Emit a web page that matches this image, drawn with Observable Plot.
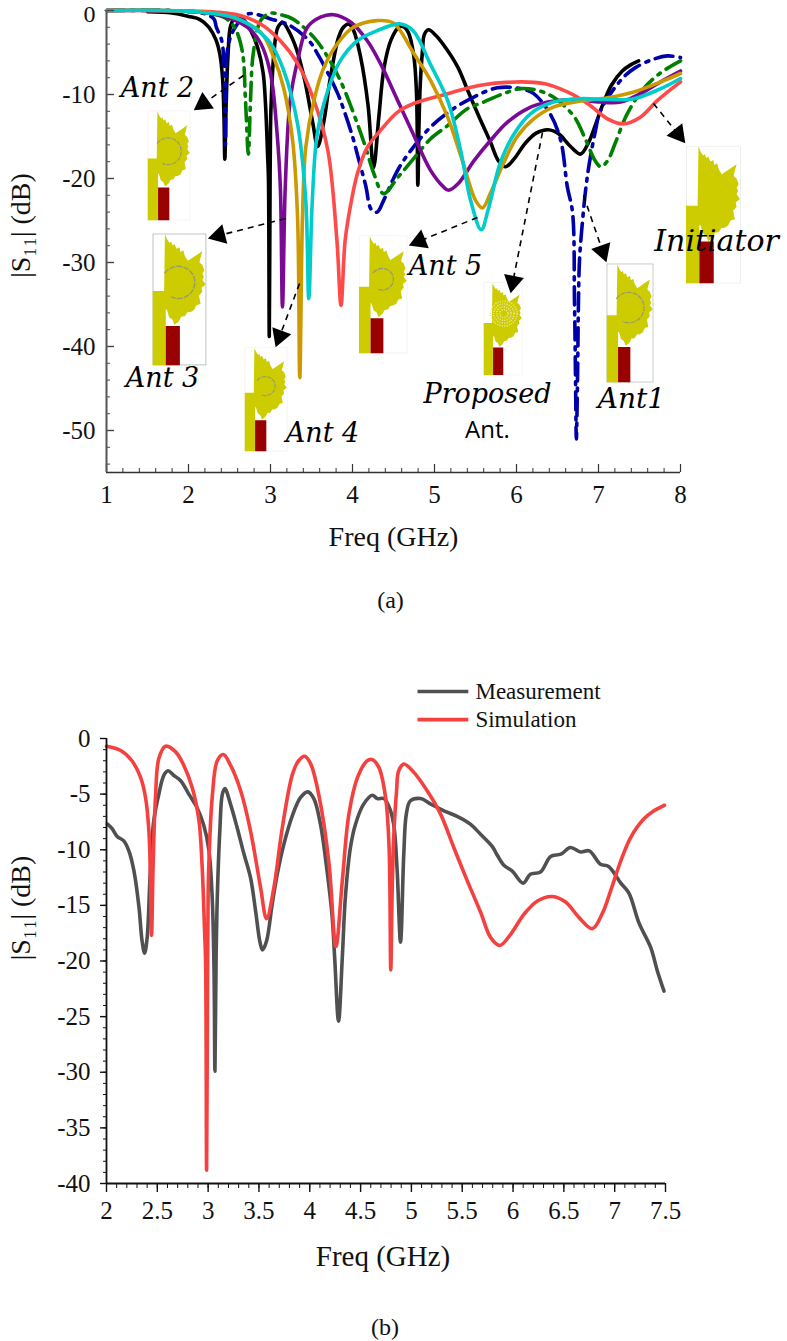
<!DOCTYPE html>
<html><head><meta charset="utf-8">
<style>html,body{margin:0;padding:0;background:#fff}svg{display:block}</style>
<script src="https://cdn.jsdelivr.net/npm/d3@7"></script>
<script src="https://cdn.jsdelivr.net/npm/@observablehq/plot@0.6"></script>
</head><body><div id="a"></div><div id="b"></div>
<script>
// ---- S11 curves, panel (a) ----
const simX=[2,2.14,2.25,2.335,2.384,2.417,2.433,2.443,2.459,2.482,2.515,2.58,2.68,2.76,2.843,2.91,2.94,2.965,2.975,2.985,2.995,3.0,3.007,3.04,3.09,3.15,3.22,3.32,3.417,3.516,3.575,3.647,3.73,3.83,3.89,3.95,4.01,4.1,4.19,4.257,4.32,4.385,4.47,4.565,4.615,4.68,4.746,4.78,4.797,4.81,4.826,4.854,4.875,4.926,5.02,5.155,5.287,5.417,5.55,5.68,5.78,5.87,5.976,6.107,6.24,6.386,6.517,6.65,6.78,6.88,6.96,7.06,7.157,7.29,7.387,7.49];
const simY=[-0.7,-1.08,-2,-3.5,-5.3,-8.3,-12.8,-17.7,-11.3,-5.3,-1.8,-0.7,-1.2,-2.4,-4.4,-7.4,-11.3,-17.3,-20,-38.8,-20,-14,-11.3,-5.3,-2,-1.44,-2.4,-4.7,-8.3,-13.4,-16.2,-13.4,-8,-3.2,-2,-1.6,-2.3,-5.6,-11.3,-18.7,-12.8,-6.8,-3.5,-2,-1.9,-2.6,-5.3,-9.7,-20.8,-14,-8.9,-4.7,-2.9,-2.3,-3,-4.7,-6.8,-9.8,-12.8,-15.6,-17.9,-18.6,-17.6,-15.8,-14.6,-14.2,-14.7,-16.1,-17.1,-15.7,-13.7,-11,-8.9,-7.2,-6.5,-6];
const blackX=[1.5,1.8,...simX], blackY=[-0.15,-0.3,...simY];
const blueX=[1,2,2.2,2.31,2.34,2.41,2.45,2.48,2.57,2.73,3.0,3.24,3.47,3.57,3.65,3.82,3.9,4,4.08,4.16,4.23,4.3,4.38,4.5,4.62,4.95,5.23,5.48,5.77,6.05,6.21,6.41,6.54,6.62,6.683,6.707,6.72,6.73,6.744,6.756,6.768,6.8,6.866,6.963,7.024,7.29,7.45,7.67,7.84,8];
const blueY=[0,-0.1,-0.4,-1,-2,-3.8,-16,-4.4,-2,-0.4,-1,-1.8,-3.6,-5.1,-6.5,-9.9,-12,-15,-17.9,-20.8,-23.7,-24,-22.6,-20,-17.9,-13.9,-11.7,-10.3,-9.2,-9.3,-9.9,-12.3,-15.5,-21,-24,-34.5,-44,-51,-44,-34.5,-29.8,-25.6,-19.6,-14.3,-11.9,-8.1,-6.8,-5.8,-5.4,-5.6];
const greenX=[1,2,2.43,2.56,2.655,2.695,2.73,2.756,2.79,2.88,3,3.12,3.27,3.53,3.67,3.85,4.06,4.16,4.26,4.38,4.55,4.74,4.95,5.16,5.4,5.6,5.84,6.05,6.25,6.45,6.7,6.84,6.96,7.03,7.11,7.2,7.35,7.55,7.76,8];
const greenY=[0,-0.1,-0.8,-2,-4.8,-10.7,-17.1,-10.7,-5.1,-1.2,-0.32,-0.5,-1,-3.2,-5.1,-8.3,-13.5,-16.3,-19.4,-21.8,-19.9,-17.7,-15.3,-13.7,-11.7,-10.9,-9.9,-9.3,-9.5,-10.3,-12.6,-15.3,-17.9,-18.6,-17.9,-15.9,-12.3,-9.3,-7.4,-6];
const purpleX=[1,2,2.4,2.72,2.88,3,3.08,3.12,3.146,3.18,3.24,3.33,3.45,3.61,3.77,3.98,4.18,4.34,4.55,4.74,4.95,5.11,5.17,5.29,5.48,5.68,5.89,6.13,6.38,6.7,7.02,7.27,7.51,7.79,8];
const purpleY=[0,-0.1,-0.6,-2,-3.9,-7.5,-14.6,-21,-35.3,-21,-10.7,-6,-2,-0.8,-0.5,-1.4,-3.6,-6.3,-10.7,-14.7,-19,-21,-21.4,-20.6,-17.9,-15.5,-13.3,-11.7,-10.9,-10.6,-10.9,-10.9,-9.9,-8.3,-7.2];
const redX=[1,2,2.35,2.63,2.88,3.12,3.33,3.53,3.7,3.81,3.86,3.91,3.98,4.06,4.18,4.34,4.55,4.74,5.16,5.56,6.05,6.33,6.62,6.87,7.11,7.3,7.51,7.72,8];
const redY=[0,-0.05,-0.2,-0.6,-1.6,-3.6,-6.3,-10.7,-16.7,-27.4,-35.1,-27.4,-23,-19.4,-16.3,-14.3,-12.1,-11.1,-9.9,-8.9,-8.5,-8.7,-9.7,-11.1,-12.9,-13.5,-12.7,-10.7,-8.5];
const goldX=[1,2,2.5,2.88,3.04,3.16,3.27,3.33,3.357,3.39,3.43,3.53,3.65,3.82,4.01,4.3,4.5,4.74,4.95,5.16,5.35,5.5,5.585,5.68,5.84,6.01,6.21,6.45,6.78,7.11,7.43,7.76,8];
const goldY=[0,-0.1,-0.7,-2.6,-5.6,-9.2,-15.5,-24.6,-43.7,-24.6,-16.3,-10.7,-6.8,-3.9,-2,-1.2,-1.5,-5,-8.3,-12.7,-18.2,-22.6,-23.5,-21.8,-18.2,-15,-12.9,-11.5,-10.8,-10.4,-9.7,-8.5,-7.5];
const cyanX=[1,2,2.55,2.79,3,3.16,3.33,3.43,3.467,3.51,3.57,3.7,3.85,4.06,4.3,4.585,4.74,4.95,5.16,5.32,5.44,5.57,5.66,5.8,5.97,6.17,6.45,6.78,7.11,7.43,7.76,8];
const cyanY=[0,-0.1,-0.8,-2,-3.9,-7.1,-13.5,-22.6,-34.3,-22.6,-14.7,-9.5,-6,-3.6,-2.4,-1.6,-2.4,-6.4,-10.7,-16.7,-22.6,-26.1,-23.5,-18.2,-14.7,-12.3,-10.9,-10.5,-10.6,-10.5,-9.3,-8.1];
// ---- panel (b) ----
const measX=[2.01,2.055,2.105,2.17,2.22,2.27,2.32,2.35,2.375,2.4,2.43,2.465,2.515,2.565,2.605,2.66,2.73,2.81,2.89,2.957,3.007,3.04,3.058,3.067,3.078,3.09,3.115,3.14,3.165,3.22,3.285,3.35,3.417,3.467,3.51,3.535,3.575,3.63,3.68,3.745,3.83,3.91,3.98,4.04,4.105,4.17,4.22,4.245,4.283,4.32,4.35,4.4,4.45,4.53,4.615,4.665,4.73,4.795,4.83,4.86,4.893,4.925,4.95,4.99,5.09,5.19,5.32,5.45,5.58,5.68,5.795,5.845,5.91,5.99,6.1,6.17,6.27,6.37,6.47,6.565,6.665,6.75,6.86,6.94,7.06,7.14,7.24,7.355,7.42,7.485];
const measY=[-7.7,-8.1,-8.8,-9.2,-10.1,-11.9,-15.2,-18.2,-19.3,-17.9,-12.2,-7.4,-5,-3.3,-2.9,-3.3,-3.8,-5,-6.2,-7.8,-10,-14.3,-20.9,-29.9,-20,-14.3,-8.3,-5,-4.5,-5.9,-8,-10.3,-12.5,-15.5,-18.3,-19,-18.2,-14.9,-12.2,-9.5,-6.9,-5.3,-4.8,-5.4,-7.7,-11.9,-16,-19.7,-25.4,-19.7,-14.3,-9.8,-7.7,-5.9,-5.1,-5.4,-5.4,-6.5,-8,-11.9,-18.3,-10.4,-6.8,-5.6,-5.4,-5.9,-6.5,-7,-7.7,-8.6,-9.7,-10.5,-11.4,-11.9,-13,-12.2,-12,-10.6,-10.4,-9.8,-10.2,-10.1,-11.3,-11.5,-13,-13.9,-16.6,-18.8,-20.9,-22.7];
// ---- annotations, panel (a) ----
const iconNames=["Ant 2","Ant 3","Ant 4","Ant 5","Proposed","Ant1","Initiator"];
const iconCx=[1.762,1.89,2.945,4.372,5.835,7.384,8.40];
const iconCy=[-18.45,-34.4,-46.3,-33.8,-37.9,-37.2,-24.3];
const iconW=[43,54,43,49,39,47,55];
const iconH=[110,132,104,118,93,119,138];
const ringR=[40,40,30,30,0,42,0];
const arrowFromX=[2.671,3.183,3.354,5.524,6.317,6.817,7.671];
const arrowFromY=[-7.74,-24.76,-32.5,-24.64,-14.52,-22.02,-11.07];
const arrowToX=[2.061,2.232,3.061,4.683,5.927,7.098,8.061];
const arrowToY=[-11.9,-27.14,-40.12,-27.98,-33.69,-30,-15.83];
const labelText=["Ant 2","Ant 3","Ant 4","Ant 5","Initiator","Proposed","Ant1"];
const labelX=[1.622,1.683,3.634,5.134,8.44,5.646,7.402];
const labelY=[-9.29,-43.8,-50.36,-30.5,-27.5,-45.7,-46.2];
const labelSize=[27,27,27,27,30,27,28];

const serif='"Liberation Serif", serif', mathFont='"DejaVu Serif", serif';
const zip=(X,Y)=>X.map((x,i)=>({x,y:Y[i]}));
const range=(a,b,s)=>d3.range(Math.round((b-a)/s)+1).map(i=>+(a+i*s).toFixed(3));

function icon(name,ring){
  const body="M30 2L35 14L41 24L45 20L48 30L53 26L58 38L65 34L67 46L74 42L78 56L85 68L100 58L120 44L116 60L113 72L120 78L125 92L120 100L124 108L120 115L128 127L118 135L120 145L112 155L116 175L106 178L100 190L92 195L84 196L78 206L69 207L64 218L53 227L48 214L40 208L35 190L32 188L32 230L32 328L0 328L0 143L28 143Z";
  let extra="";
  if(ring) extra=`<path d="M${65-ring*0.9} ${123-ring*0.6}A${ring} ${ring} 0 1 1 ${65-ring*0.5} ${123+ring*0.87}" fill="none" stroke="#9a9a70" stroke-width="3.5" stroke-dasharray="14 3"/>`;
  if(name==="Proposed") extra=[14,24,34,44].map(r=>`<circle cx="68" cy="110" r="${r}" fill="none" stroke="#eee890" stroke-width="5" stroke-dasharray="4 4"/>`).join("");
  const red=name==="Initiator"?"M32 228h34v100h-34z":"M32 230h34v98h-34z";
  const border=(name==="Ant1"||name==="Ant 3")?"#8a9a8a":"#e4e4e4";
  const svg=`<svg xmlns="http://www.w3.org/2000/svg" viewBox="0 0 130 328" preserveAspectRatio="none"><rect x="1" y="1" width="128" height="326" fill="#fff" stroke="${border}" stroke-width="2"/><path d="${body}" fill="#cccc00"/>${extra}<path d="${red}" fill="#990000"/></svg>`;
  return "data:image/svg+xml;charset=utf-8,"+encodeURIComponent(svg);
}
const icons=iconNames.map((n,i)=>({x:iconCx[i],y:iconCy[i],w:iconW[i],h:iconH[i],src:icon(n,ringR[i])}));
const pxX=82,pxY=8.4;
const arrows=arrowFromX.map((x1,i)=>{
  const x2=arrowToX[i],y1=arrowFromY[i],y2=arrowToY[i];
  const dx=(x2-x1)*pxX,dy=-(y2-y1)*pxY,L=Math.hypot(dx,dy);
  return {x1,y1,x2:x2-(dx/L*12)/pxX,y2:y2+(dy/L*12)/pxY,rot:Math.atan2(dx,-dy)*180/Math.PI};
});
const curve=(X,Y,stroke,dash)=>Plot.line(zip(X,Y),{x:"x",y:"y",stroke,strokeWidth:3.6,curve:"catmull-rom",strokeDasharray:dash,strokeLinejoin:"round"});
const dd="18,7,3,7";

const chartA=Plot.plot({
  width:787,height:640,marginLeft:106,marginRight:107,marginTop:10,marginBottom:168,
  style:{fontFamily:serif,background:"#fff",overflow:"visible",color:"#000"},
  x:{domain:[1,8],label:null},y:{domain:[-55,0],label:null},
  marks:[
    curve(blackX,blackY,"#000"),
    curve(blueX,blueY,"#0000aa",dd),
    curve(greenX,greenY,"#008000",dd),
    curve(purpleX,purpleY,"#7a0a96"),
    curve(redX,redY,"#ff4a4a"),
    curve(goldX,goldY,"#cc9900"),
    curve(cyanX,cyanY,"#00cccc"),
    Plot.image(icons,{x:"x",y:"y",width:"w",height:"h",src:"src",preserveAspectRatio:"none"}),
    Plot.link(arrows,{x1:"x1",y1:"y1",x2:"x2",y2:"y2",stroke:"#000",strokeWidth:1.6,strokeDasharray:"6,5"}),
    Plot.dot(arrows,{x:"x2",y:"y2",symbol:"triangle",r:7.5,fill:"#000",rotate:"rot"}),
    Plot.text(labelText,{x:(d,i)=>labelX[i],y:(d,i)=>labelY[i],text:d=>d,fontFamily:mathFont,fontStyle:"italic",fontSize:(d,i)=>labelSize[i],fill:"#000"}),
    Plot.text(["Ant."],{x:[5.646],y:[-50],fontFamily:'"Open Sans", sans-serif',fontSize:24,fill:"#000"}),
    Plot.axisX({ticks:range(1,8,0.2),tickFormat:null,tickSize:-4,stroke:"#333",strokeWidth:1,text:null}),
    Plot.axisX({ticks:range(1,8,1),tickSize:-8,tickPadding:21,fontSize:25,stroke:"#333",strokeWidth:1.2,tickFormat:d=>d,fill:"#111"}),
    Plot.axisY({ticks:range(-54,0,2),tickFormat:null,tickSize:-4,stroke:"#444",strokeWidth:1,text:null}),
    Plot.axisY({ticks:range(-50,0,10),tickFormat:null,tickSize:-8,stroke:"#444",strokeWidth:1.4,text:null}),
    Plot.axisY({ticks:range(-50,-10,10),tickSize:0,tickPadding:11,fontSize:25,tickFormat:d=>d,fill:"#111"}),
    Plot.text(["0"],{x:[1],y:[0],dx:-11,dy:4,textAnchor:"end",fontSize:24,fill:"#111"}),
    Plot.ruleY([-55],{stroke:"#333",strokeWidth:1.5}),
    Plot.ruleX([1],{stroke:"#555",strokeWidth:2}),
    Plot.text(["Freq (GHz)"],{frameAnchor:"bottom",dy:73,fontSize:28,fill:"#111"}),
    Plot.text(["|S₁₁| (dB)"],{frameAnchor:"left",textAnchor:"middle",rotate:-90,dx:-85,dy:-16,fontSize:28,fill:"#111"}),
    Plot.text(["(a)"],{frameAnchor:"bottom",dx:-3,dy:135,fontSize:24,fill:"#111"})
  ]
});
document.getElementById("a").append(chartA);

const chartB=Plot.plot({
  width:787,height:701,marginLeft:106,marginRight:122,marginTop:98,marginBottom:158,
  style:{fontFamily:serif,background:"#fff",overflow:"visible",color:"#000"},
  x:{domain:[2,7.5],label:null},y:{domain:[-40,0],label:null},
  marks:[
    curve(measX,measY,"#505050"),
    curve(simX,simY,"#f4403f"),
    Plot.axisX({ticks:range(2,7.5,0.1),tickFormat:null,tickSize:5,stroke:"#111",strokeWidth:1,text:null}),
    Plot.axisX({ticks:range(2,7.5,0.5),tickSize:9,tickPadding:9,fontSize:25,stroke:"#111",strokeWidth:1.4,tickFormat:d=>d,fill:"#111"}),
    Plot.axisY({ticks:range(-40,0,1),tickFormat:null,tickSize:3,stroke:"#111",strokeWidth:1,text:null}),
    Plot.axisY({ticks:range(-40,0,5),tickSize:6,tickPadding:10,fontSize:25,stroke:"#111",strokeWidth:1.4,tickFormat:d=>d,fill:"#111"}),
    Plot.ruleY([-40],{stroke:"#111",strokeWidth:1.8}),
    Plot.ruleX([2],{stroke:"#111",strokeWidth:1.8}),
    Plot.link([0,1],{x1:()=>5.06,x2:()=>5.56,y1:(d,i)=>[4.22,1.7][i],y2:(d,i)=>[4.22,1.7][i],stroke:(d,i)=>["#505050","#f4403f"][i],strokeWidth:3.6}),
    Plot.text(["Measurement","Simulation"],{x:()=>5.63,y:(d,i)=>[4.22,1.7][i],textAnchor:"start",fontSize:23,fill:"#111"}),
    Plot.text(["Freq (GHz)"],{frameAnchor:"bottom",dy:82,dx:-3,fontSize:29,fill:"#111"}),
    Plot.text(["|S₁₁| (dB)"],{frameAnchor:"left",textAnchor:"middle",rotate:-90,dx:-85,dy:-53,fontSize:28,fill:"#111"}),
    Plot.text(["(b)"],{frameAnchor:"bottom",dx:-1,dy:151,fontSize:24,fill:"#111"})
  ]
});
document.getElementById("b").append(chartB);
</script></body></html>
